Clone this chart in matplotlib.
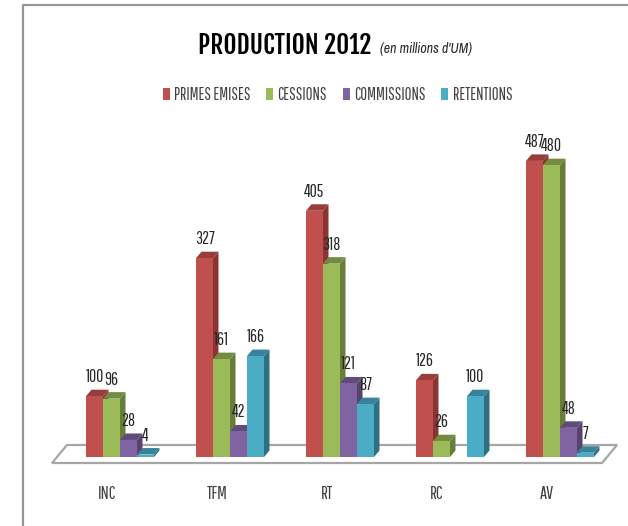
import matplotlib
matplotlib.use("Agg")
import matplotlib.pyplot as plt
import numpy as np

categories = ["INC", "TFM", "RT", "RC", "AV"]
series = ["PRIMES EMISES", "CESSIONS", "COMMISSIONS", "RETENTIONS"]
primes = [100, 327, 405, 126, 487]
cessions = [96, 161, 318, 26, 480]
commissions = [28, 42, 121, np.nan, 48]
retentions = [4, 166, 87, 100, 7]

front = ["#c0504d", "#9bbb59", "#8064a2", "#4bacc6"]
side = ["#8a3533", "#677d3a", "#56436e", "#2f6f82"]
top = ["#973e3b", "#748c42", "#604c7b", "#38829a"]

narrow = ['Pathway Gothic One', 'Liberation Sans', 'DejaVu Sans']
plt.rcParams['font.family'] = narrow

# pixel layout of the reference
W, H = 628, 526
x0, group_step, bar_px = 120, 110, 17
y0, px_per_unit = 457, 0.608
dx_px, dy_px = 5.5, 6.5

fig = plt.figure(figsize=(W / 100, H / 100), dpi=100)
ax = fig.add_axes([0, 0, 1, 1])
ax.set_xlim(-x0 / group_step, (W - x0) / group_step)
ax.set_ylim(-(H - y0) / px_per_unit, y0 / px_per_unit)
ax.axis("off")

def px(x, y):
    return (x - x0) / group_step, (y0 - y) / px_per_unit

bw = bar_px / group_step
dx = dx_px / group_step
dy = dy_px / px_per_unit

# frame of the pasted picture
ax.plot(*zip(px(23, H), px(23, 5), px(W, 5)), color="#969696", lw=1.6, solid_capstyle="butt")

# floor
floor = [px(52, 463), px(602, 463), px(617, 445), px(67, 445)]
ax.fill(*zip(*floor), facecolor="white", edgecolor="#a6a6a6", lw=1.6, zorder=1)

idx = np.arange(len(categories))
handles = []
for s, vals in enumerate([primes, cessions, commissions, retentions]):
    xs = idx + (s - 2) * bw
    for xl, v in zip(xs, vals):
        if np.isnan(v):
            continue
        xr = xl + bw
        ax.fill([xr, xr + dx, xr + dx, xr], [0, dy, v + dy, v], color=side[s], lw=0, zorder=2 + s)
        ax.fill([xl, xl + dx, xr + dx, xr], [v, v + dy, v + dy, v], color=top[s], lw=0, zorder=2 + s)
        ax.text(xl + bw / 2, v + 19 / px_per_unit, f"{v:.0f}", ha="center", va="center",
                fontsize=12.5, color="#262626", zorder=10)
    b = ax.bar(xs, vals, width=bw, align="edge", color=front[s], lw=0, zorder=2 + s, label=series[s])
    handles.append(b)

for i, c in enumerate(categories):
    ax.text(i - 13 / group_step, px(0, 494)[1], c, ha="center", va="center", fontsize=13, color="#404040")

ax.text(*px(198, 45), "PRODUCTION 2012", ha="left", va="center", fontsize=18.2,
        family=['Fjalla One', 'Liberation Sans', 'DejaVu Sans'], color="black")
ax.text(*px(380, 49), "(en millions d'UM)", ha="left", va="center", fontsize=10,
        fontstyle="italic", family=['Archivo Narrow', 'Liberation Sans', 'DejaVu Sans'], color="#262626")

ax.legend(handles=handles, loc="center", bbox_to_anchor=(337.5 / W, 1 - 95 / H), ncol=4, frameon=False,
          fontsize=12, labelcolor="#404040", handlelength=0.42, handleheight=0.7,
          handletextpad=0.25, columnspacing=0.95, borderpad=0, borderaxespad=0)

fig.savefig("out.png", dpi=100)
